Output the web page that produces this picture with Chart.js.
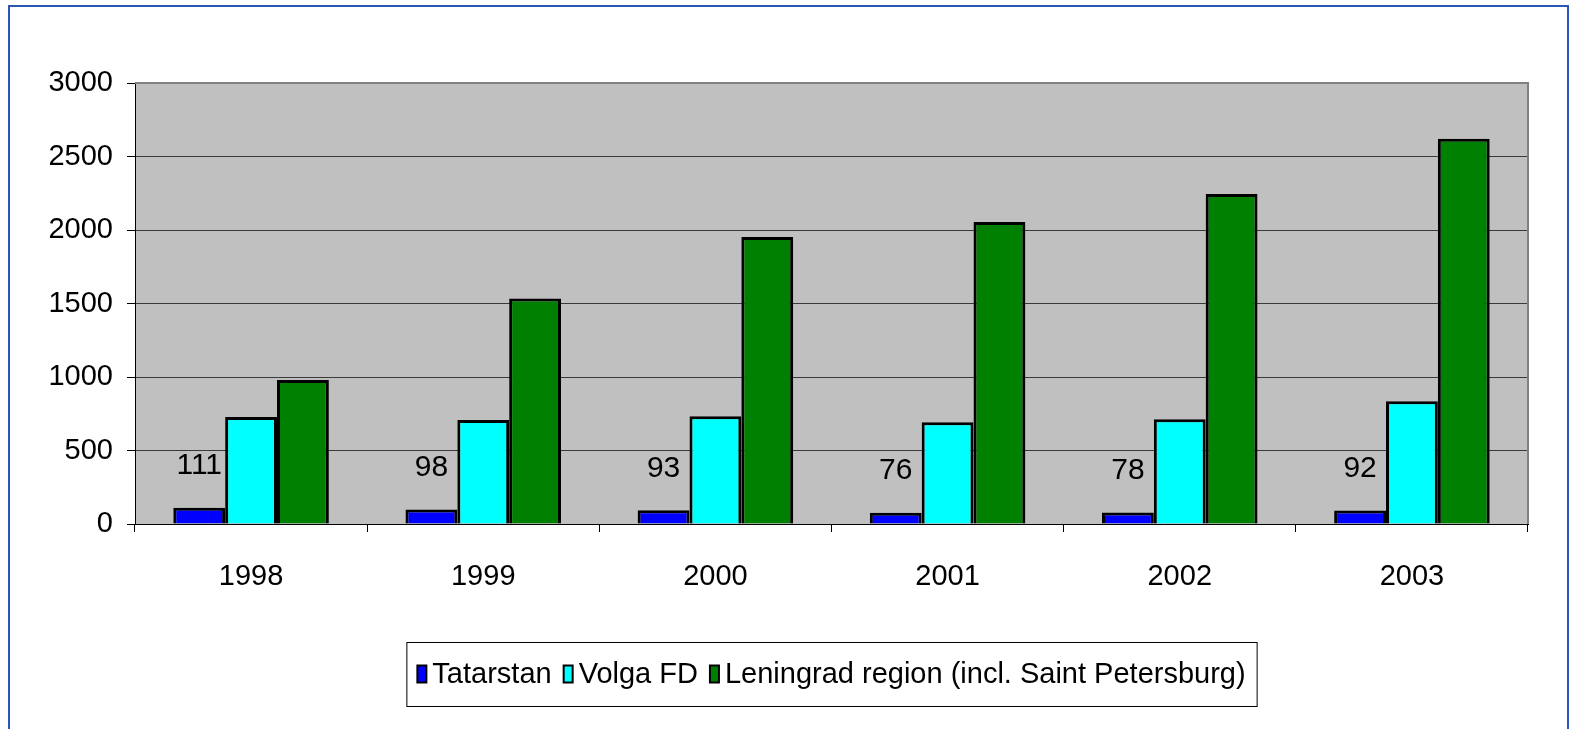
<!DOCTYPE html>
<html>
<head>
<meta charset="utf-8">
<script src="https://cdn.jsdelivr.net/npm/chart.js@4.4.0/dist/chart.umd.min.js"></script>
<style>
  html, body { margin: 0; padding: 0; background: #fff; }
  #wrap { position: relative; width: 1571px; height: 729px; overflow: hidden; }
  #frame { position: absolute; left: 8px; top: 5px; width: 1561px; height: 800px; border: 2px solid #2a56b8; box-sizing: border-box; }
  #chart { position: absolute; left: 0; top: 0; }
</style>
</head>
<body>
<div id="wrap">
  <div id="frame"></div>
  <canvas id="chart" width="1571" height="729"></canvas>
</div>
<script>
const years = ["1998", "1999", "2000", "2001", "2002", "2003"];
const tatarstan = [111, 98, 93, 76, 78, 92];
const volgaFD = [728, 707, 733, 692, 712, 835];
const leningrad = [980, 1534, 1952, 2054, 2245, 2620];
const seriesNames = ["Tatarstan", "Volga FD", "Leningrad region (incl. Saint Petersburg)"];

const fontFamily = "'Liberation Sans', Arial, sans-serif";
const fontSize = 29;

// grey plot area plus the grey top/right frame
const plotBackground = {
    id: "plotBackground",
    beforeDraw(chart) {
        const { ctx, chartArea: a } = chart;
        ctx.save();
        ctx.fillStyle = "#c0c0c0";
        ctx.fillRect(a.left, a.top, a.right - a.left, a.bottom - a.top);
        ctx.restore();
    },
    afterDraw(chart) {
        const { ctx, chartArea: a } = chart;
        ctx.save();
        ctx.strokeStyle = "#808080";
        ctx.lineWidth = 2;
        ctx.beginPath();
        ctx.moveTo(a.left, a.top);
        ctx.lineTo(a.right, a.top);
        ctx.lineTo(a.right, a.bottom);
        ctx.stroke();
        ctx.restore();
    }
};

// value labels over the Tatarstan bars
const tatarstanLabels = {
    id: "tatarstanLabels",
    afterDatasetsDraw(chart) {
        const ctx = chart.ctx;
        const meta = chart.getDatasetMeta(0);
        ctx.save();
        ctx.font = (fontSize + 1) + "px " + fontFamily;
        ctx.fillStyle = "#000";
        ctx.textAlign = "center";
        ctx.textBaseline = "middle";
        meta.data.forEach((bar, i) => {
            ctx.fillText(String(tatarstan[i]), bar.x, bar.y - 42);
        });
        ctx.restore();
    }
};

// boxed legend below the axis
const legendBox = {
    id: "legendBox",
    afterDraw(chart) {
        const { ctx, chartArea: a } = chart;
        ctx.save();
        ctx.font = fontSize + "px " + fontFamily;
        const items = chart.data.datasets.map(ds => ({
            text: ds.label,
            color: ds.backgroundColor,
            w: ctx.measureText(ds.label).width
        }));
        const markW = 9, markH = 17, gap = 6, spacing = 12, pad = 11;
        let total = 0;
        items.forEach(it => { total += markW + gap + it.w; });
        total += spacing * (items.length - 1);
        const boxW = total + pad * 2;
        const boxH = 64;
        const left = (a.left + a.right) / 2 - boxW / 2;
        const top = a.bottom + 118;
        const midY = top + boxH / 2;

        ctx.strokeStyle = "#000";
        ctx.lineWidth = 1;
        ctx.strokeRect(left + 0.5, top + 0.5, boxW, boxH);

        let x = left + pad;
        ctx.textBaseline = "middle";
        ctx.textAlign = "left";
        items.forEach(it => {
            ctx.fillStyle = it.color;
            ctx.fillRect(x, midY - markH / 2, markW, markH);
            ctx.strokeStyle = "#000";
            ctx.lineWidth = 2;
            ctx.strokeRect(x, midY - markH / 2, markW, markH);
            x += markW + gap;
            ctx.fillStyle = "#000";
            ctx.fillText(it.text, x, midY + 1);
            x += it.w + spacing;
        });
        ctx.restore();
    }
};

const chart = new Chart(document.getElementById("chart"), {
    type: "bar",
    data: {
        labels: years,
        datasets: [
            { label: seriesNames[0], data: tatarstan, backgroundColor: "#0000ff" },
            { label: seriesNames[1], data: volgaFD, backgroundColor: "#00ffff" },
            { label: seriesNames[2], data: leningrad, backgroundColor: "#008000" }
        ]
    },
    options: {
        responsive: false,
        animation: false,
        datasets: {
            bar: {
                borderColor: "#000",
                borderWidth: 3,
                categoryPercentage: 0.67,
                barPercentage: 1.0
            }
        },
        layout: {
            padding: { top: 83, right: 43, left: 0, bottom: 125 }
        },
        plugins: {
            legend: { display: false },
            tooltip: { enabled: false }
        },
        scales: {
            x: {
                offset: true,
                grid: {
                    offset: true,
                    drawOnChartArea: false,
                    drawTicks: true,
                    tickLength: 8,
                    tickColor: "#000"
                },
                border: { color: "#000", width: 1 },
                ticks: {
                    color: "#000",
                    padding: 28,
                    font: { family: fontFamily, size: fontSize }
                },
                afterFit(scale) { scale.height = 80; }
            },
            y: {
                min: 0,
                max: 3000,
                ticks: {
                    stepSize: 500,
                    color: "#000",
                    padding: 14,
                    font: { family: fontFamily, size: fontSize },
                    callback: (v) => String(v)
                },
                grid: {
                    color: "#3a3a3a",
                    lineWidth: 1,
                    tickLength: 8,
                    tickColor: "#000"
                },
                border: { color: "#000", width: 1 },
                afterFit(scale) { scale.width = 135; }
            }
        }
    },
    plugins: [plotBackground, tatarstanLabels, legendBox]
});
</script>
</body>
</html>
